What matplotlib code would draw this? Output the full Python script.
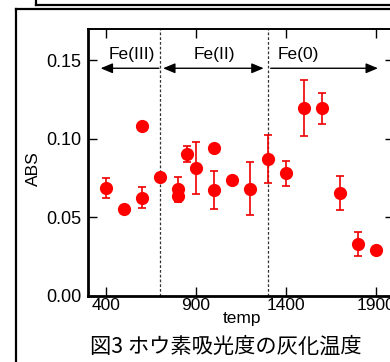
import matplotlib
matplotlib.use("Agg")
import matplotlib.pyplot as plt
import numpy as np
from matplotlib.lines import Line2D

plt.rcParams['font.family'] = ['Liberation Sans', 'DejaVu Sans']

# data
temp = [400, 500, 600, 600, 700, 800, 800, 850, 900, 1000, 1000, 1100, 1200, 1300, 1400, 1500, 1600, 1700, 1800, 1900]
abs_val = [0.0686, 0.0552, 0.108, 0.0626, 0.076, 0.0683, 0.0639, 0.0904, 0.0815, 0.0945, 0.0675, 0.0739,
           0.0683, 0.0875, 0.0781, 0.1196, 0.1196, 0.0654, 0.0331, 0.0291]
abs_err = [0.0065, 0, 0, 0.0068, 0, 0.0077, 0.004, 0.0051, 0.0166, 0, 0.0122, 0, 0.0169, 0.0153, 0.0078,
           0.0179, 0.0099, 0.0107, 0.0074, 0]
boundaries = [700, 1300]
region_labels = ["Fe(III)", "Fe(II)", "Fe(0)"]
region_label_x = [544, 1000, 1470]
xticks = [400, 900, 1400, 1900]
yticks = [0.00, 0.05, 0.10, 0.15]

W, H = 390, 362
fig = plt.figure(figsize=(W / 100, H / 100), dpi=100)
fig.patch.set_facecolor('white')

# axes position (extends past the right edge, as in the cropped reference)
left, right, top, bottom = 88, 394, 29, 296
ax = fig.add_axes([left / W, 1 - bottom / H, (right - left) / W, (bottom - top) / H])

t = np.array(temp)
a = np.array(abs_val)
e = np.array(abs_err)
m = e > 0
ax.errorbar(t[m], a[m], yerr=e[m], fmt='none', ecolor='#ee0000', elinewidth=1.2, capsize=3, capthick=1.2, zorder=3)
ax.plot(t, a, 'o', color='#ff0000', markersize=9.5, zorder=4, markeredgewidth=0)

for b in boundaries:
    ax.axvline(b, color='#333333', lw=0.9, ls=(0, (2.2, 1.6)), zorder=2)

ay = 0.145
ap = dict(color='black', lw=1.0, shrinkA=0, shrinkB=0, mutation_scale=12)
ax.annotate('', xy=(370, ay), xytext=(694, ay), arrowprops=dict(arrowstyle='-|>,head_length=0.6,head_width=0.25', **ap))
ax.annotate('', xy=(1276, ay), xytext=(717, ay), arrowprops=dict(arrowstyle='<|-|>,head_length=0.6,head_width=0.25', **ap))
ax.annotate('', xy=(1911, ay), xytext=(1315, ay), arrowprops=dict(arrowstyle='-|>,head_length=0.6,head_width=0.25', **ap))

for lx, lab in zip(region_label_x, region_labels):
    ax.text(lx, 0.1508, lab, ha='center', va='baseline', fontsize=12.5)

ax.set_xlim(300, 2000)
ax.set_ylim(0, 0.17)
ax.set_xticks(xticks)
ax.set_yticks(yticks)
ax.set_xticklabels([str(v) for v in xticks])
ax.set_yticklabels([f"{v:.2f}" for v in yticks])
ax.tick_params(direction='in', length=6.5, width=1, top=True, right=True, labelsize=12.5)
ax.tick_params(axis='x', pad=1.5)
ax.tick_params(axis='y', pad=5, labelsize=13)

for s in ['left', 'bottom']:
    ax.spines[s].set_linewidth(2)
for s in ['top', 'right']:
    ax.spines[s].set_linewidth(1.4)

ax.set_xlabel('temp', fontsize=12.5)
ax.xaxis.set_label_coords(0.502, (296 - 319) / (bottom - top))
ax.xaxis.label.set_va('center')
fig.text(33 / W, 1 - 169 / H, 'ABS', rotation=90, ha='center', va='center', fontsize=12.5)

fig.text(226 / W, 1 - 347 / H, '図3 ホウ素吸光度の灰化温度', ha='center', va='center', fontsize=15.3,
         family=['Noto Sans CJK JP', 'DejaVu Sans'])

# document frames
lw = 1.6
fig.add_artist(Line2D([16 / W, 16 / W], [0, 1 - 9 / H], color='black', lw=lw, transform=fig.transFigure))
fig.add_artist(Line2D([16 / W, 1], [1 - 9 / H, 1 - 9 / H], color='black', lw=lw, transform=fig.transFigure))
fig.add_artist(Line2D([36 / W, 1], [1 - 4.5 / H, 1 - 4.5 / H], color='black', lw=lw, transform=fig.transFigure))
fig.add_artist(Line2D([36 / W, 36 / W], [1 - 4.5 / H, 1], color='black', lw=lw, transform=fig.transFigure))

fig.savefig('out.png', dpi=100)
